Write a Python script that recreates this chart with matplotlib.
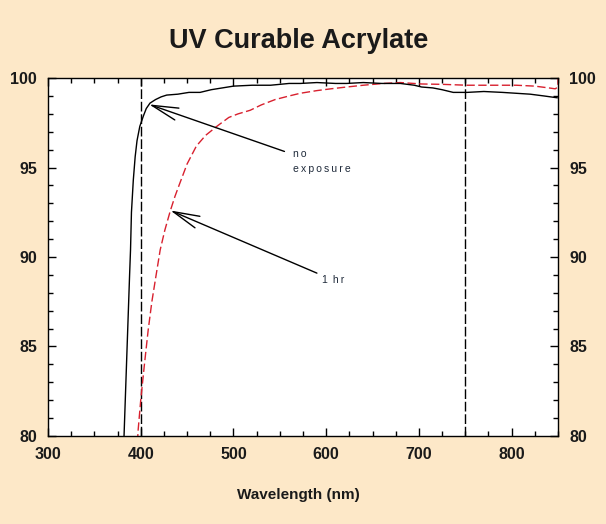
import numpy as np
import matplotlib
matplotlib.use("Agg")
import matplotlib.pyplot as plt
from matplotlib.ticker import MultipleLocator

# transmittance (%)
wl_none = [378, 382, 384, 386, 388, 389, 390, 392, 394, 396, 399, 403, 406, 410, 416, 422,
           428, 440, 452, 464, 476, 488, 500, 520, 540, 560, 572, 590, 610, 622, 640, 660,
           680, 695, 703, 715, 725, 737, 752, 770, 790, 805, 820, 835, 849]
tr_none = [76.0, 80.0, 83.0, 86.0, 89.0, 90.4, 92.5, 94.3, 95.6, 96.5, 97.3, 97.9, 98.3,
           98.6, 98.8, 98.95, 99.05, 99.1, 99.2, 99.2, 99.35, 99.45, 99.55, 99.6, 99.6,
           99.7, 99.7, 99.75, 99.7, 99.7, 99.75, 99.7, 99.7, 99.6, 99.5, 99.45, 99.35,
           99.2, 99.2, 99.25, 99.2, 99.15, 99.1, 99.0, 98.9]

wl_1hr = [395, 397, 400, 404, 408, 412, 416, 421, 426, 432, 437, 442, 450, 460, 470, 482,
          495, 505, 518, 530, 545, 560, 572, 590, 605, 622, 640, 662, 680, 703, 725, 752,
          780, 805, 825, 840, 847, 850, 850]
tr_1hr = [77.0, 80.2, 82.0, 84.0, 85.9, 87.5, 88.8, 90.4, 91.5, 92.6, 93.4, 94.1, 95.2,
          96.2, 96.8, 97.3, 97.8, 98.0, 98.2, 98.5, 98.8, 99.0, 99.15, 99.3, 99.4, 99.5,
          99.6, 99.7, 99.75, 99.67, 99.65, 99.6, 99.6, 99.6, 99.55, 99.45, 99.4, 99.5, 100.0]

cutoffs = [400, 750]
x_ticks = [300, 400, 500, 600, 700, 800]
y_ticks = [80, 85, 90, 95, 100]

bg = "#fde8c8"
plt.rcParams['font.family'] = ['Liberation Sans', 'DejaVu Sans']

fig = plt.figure(figsize=(6.06, 5.24), dpi=100, facecolor=bg)
ax = fig.add_axes([0.0792, 0.168, 0.8416, 0.683])
ax.set_facecolor("white")

for c in cutoffs:
    ax.axvline(c, color="black", lw=1.0, linestyle=(0, (7, 2)), zorder=1)

ax.plot(wl_none, tr_none, color="black", lw=1.0, zorder=3)
ax.plot(wl_1hr, tr_1hr, color="#d8202e", lw=1.0, linestyle=(0, (6, 2.5)), zorder=2)

ax.set_xlim(300, 850)
ax.set_ylim(80, 100)
ax.set_xticks(x_ticks)
ax.set_yticks(y_ticks)
ax.xaxis.set_minor_locator(MultipleLocator(25))
ax.yaxis.set_minor_locator(MultipleLocator(1))
ax.tick_params(which="both", direction="in", top=True, right=True, labelright=True,
               width=1.0, colors="black")
ax.tick_params(which="major", length=6, labelsize=11.5, pad=8)
ax.tick_params(which="minor", length=3.5)
for lab in ax.get_xticklabels() + ax.get_yticklabels():
    lab.set_fontweight("bold")
    lab.set_color("#1a1a1a")
for s in ax.spines.values():
    s.set_linewidth(1.0)

arrow = dict(arrowstyle="->,head_length=1.9,head_width=0.45", color="black", lw=1.0,
             shrinkA=0, shrinkB=0)
ax.annotate("", xy=(409, 98.53), xytext=(555, 95.9), arrowprops=arrow)
ax.annotate("", xy=(432, 92.6), xytext=(590, 89.1), arrowprops=arrow)

sp = "\u2009"
note = dict(fontsize=7.5, color="#1f2a3a", va="baseline", ha="left")
ax.text(564, 95.59, sp.join("no"), **note)
ax.text(564, 94.75, sp.join("exposure"), **note)
ax.text(595, 88.55, "1" + sp + " " + sp.join("hr"), **note)

fig.text(0.492, 0.922, "UV Curable Acrylate", ha="center", va="center",
         fontsize=19.5, fontweight="bold", color="#1a1a1a")
fig.text(0.493, 0.055, "Wavelength (nm)", ha="center", va="center",
         fontsize=11, fontweight="bold", color="#1a1a1a")

fig.savefig("out.png", dpi=100, facecolor=bg)
